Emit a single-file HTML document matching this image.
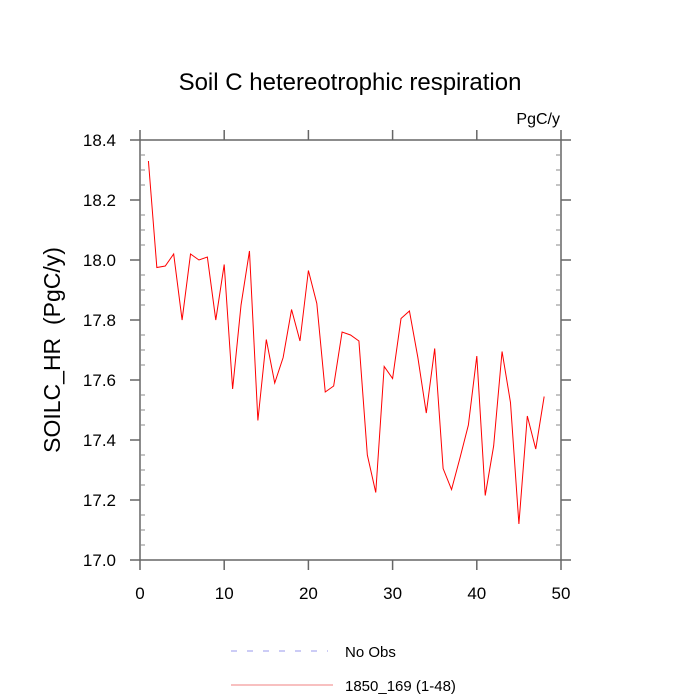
<!DOCTYPE html>
<html><head><meta charset="utf-8"><style>
html,body{margin:0;padding:0;background:#fff;}
svg{display:block;font-family:"Liberation Sans",sans-serif;}
</style></head><body>
<svg id="chart" width="700" height="700" viewBox="0 0 700 700">
<text x="350" y="90" font-size="24" text-anchor="middle">Soil C hetereotrophic respiration</text>
<text x="560" y="124" font-size="16" text-anchor="end">PgC/y</text>
<text transform="translate(60,350) rotate(-90)" font-size="23" text-anchor="middle">SOILC_HR&#160;&#160;(PgC/y)</text>
<g id="axes"></g>
<g id="series"></g>
<g>
<line x1="231" y1="651" x2="328" y2="651" stroke="#9999ee" stroke-width="1" stroke-dasharray="6,10"/>
<text x="345" y="657" font-size="15">No Obs</text>
<line x1="231" y1="685" x2="333" y2="685" stroke="#f08080" stroke-width="1"/>
<text x="345" y="691" font-size="15">1850_169 (1-48)</text>
</g>
</svg>
<script>
const years = [1,2,3,4,5,6,7,8,9,10,11,12,13,14,15,16,17,18,19,20,21,22,23,24,25,26,27,28,29,30,31,32,33,34,35,36,37,38,39,40,41,42,43,44,45,46,47,48];
const soilcHr = [18.33,17.975,17.98,18.02,17.80,18.02,18.00,18.01,17.80,17.985,17.57,17.85,18.03,17.465,17.735,17.59,17.675,17.835,17.73,17.965,17.855,17.56,17.58,17.76,17.75,17.73,17.35,17.225,17.645,17.605,17.805,17.83,17.675,17.49,17.705,17.305,17.235,17.34,17.45,17.68,17.215,17.38,17.695,17.525,17.12,17.48,17.37,17.545];
const xTicks = [0,10,20,30,40,50];
const yTicks = [17.0,17.2,17.4,17.6,17.8,18.0,18.2,18.4];
const yTickLabels = ["17.0","17.2","17.4","17.6","17.8","18.0","18.2","18.4"];

const NS="http://www.w3.org/2000/svg";
const L=140,R=561,T=140,B=560;
const xMin=0,xMax=50,yMin=17.0,yMax=18.4;
const xs=v=>L+(v-xMin)/(xMax-xMin)*(R-L);
const ys=v=>B-(v-yMin)/(yMax-yMin)*(B-T);
const axes=document.getElementById('axes');
function mk(tag,attrs,parent){const e=document.createElementNS(NS,tag);for(const k in attrs)e.setAttribute(k,attrs[k]);parent.appendChild(e);return e;}
const ax="#666";
const frame=mk('rect',{x:L,y:T,width:R-L,height:B-T,fill:'none',stroke:ax,'stroke-width':1.5},axes);


xTicks.forEach((t)=>{
  const x=xs(t);
  const tb=mk('line',{x1:x,y1:B,x2:x,y2:B+10,stroke:ax,'stroke-width':1.5},axes);
  
  
  const tt=mk('line',{x1:x,y1:T,x2:x,y2:T-10,stroke:ax,'stroke-width':1.5},axes);
  
  
  const lb=mk('text',{x:x,y:599,'font-size':17,'text-anchor':'middle'},axes);
  lb.textContent=String(t);
  
  
});
yTicks.forEach((t,i)=>{
  const y=ys(t);
  const tl=mk('line',{x1:L,y1:y,x2:L-10,y2:y,stroke:ax,'stroke-width':1.5},axes);
  
  
  const tr=mk('line',{x1:R,y1:y,x2:R+10,y2:y,stroke:ax,'stroke-width':1.5},axes);
  
  
  const lb=mk('text',{x:116,y:y+6,'font-size':17,'text-anchor':'end'},axes);
  lb.textContent=yTickLabels[i];
  
  
});
for(let k=1;k<28;k++){
  if(k%4===0)continue;
  const y=ys(yMin+k*0.05);
  const m1=mk('line',{x1:L,y1:y,x2:L+5,y2:y,stroke:'#888','stroke-width':1},axes);
  
  
  const m2=mk('line',{x1:R,y1:y,x2:R-5,y2:y,stroke:'#888','stroke-width':1},axes);
  
  
}
const pts=years.map((x,i)=>xs(x).toFixed(2)+','+ys(soilcHr[i]).toFixed(2)).join(' ');
const line=mk('polyline',{points:pts,fill:'none',stroke:'#ff0000','stroke-width':1},document.getElementById('series'));


</script>
</body></html>
